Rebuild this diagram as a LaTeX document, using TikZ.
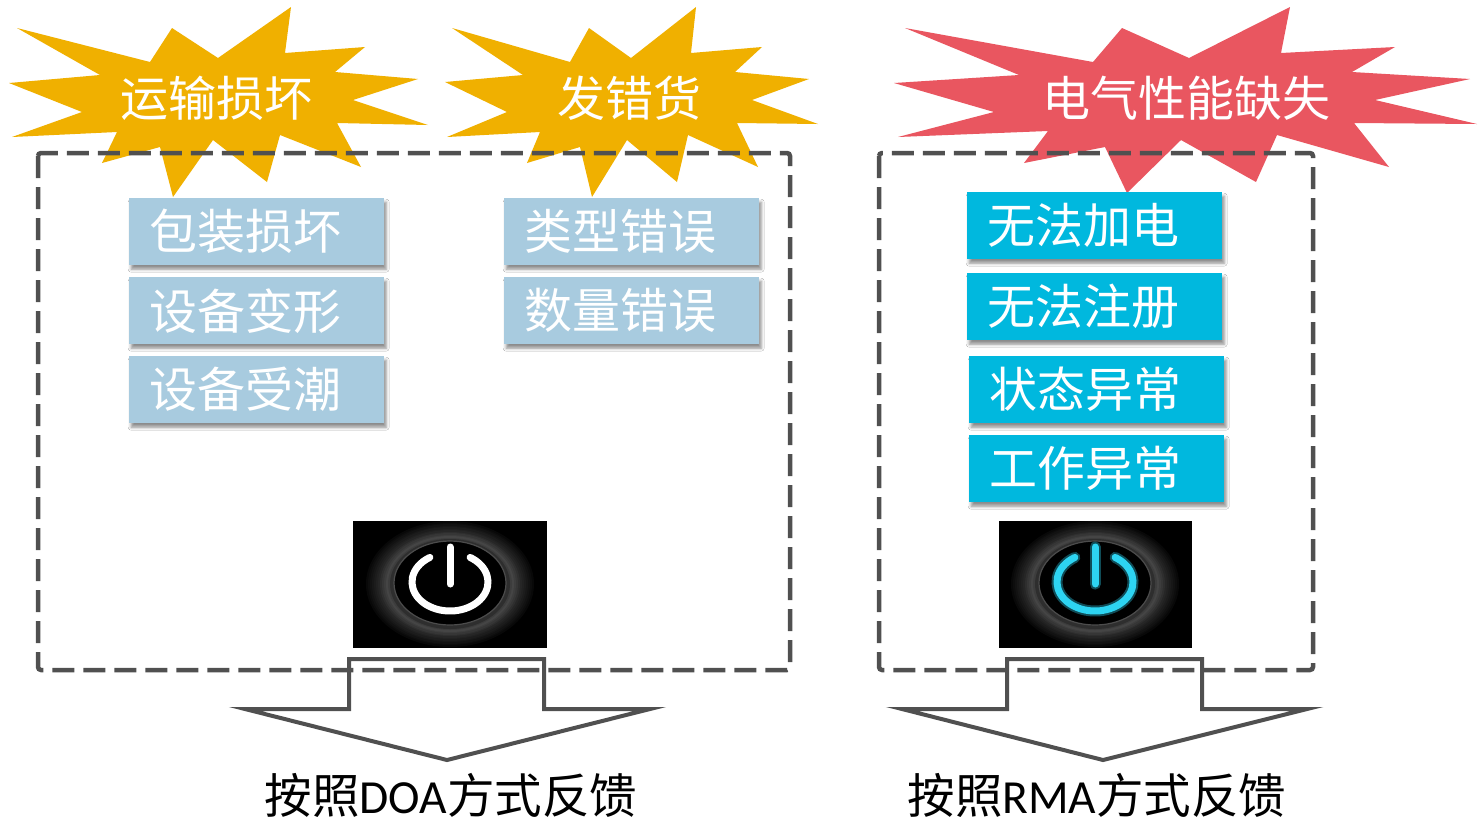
\documentclass[tikz,border=0pt]{standalone}
\usepackage{fontspec}
\setmainfont{Carlito}
\newfontfamily\cjk{Noto Sans CJK SC}
\usetikzlibrary{shadows.blur}

\definecolor{burstgold}{RGB}{240,176,0}
\definecolor{burstred}{RGB}{233,86,96}
\definecolor{tagblue}{RGB}{168,203,223}
\definecolor{tagcyan}{RGB}{0,184,222}
\definecolor{framegray}{RGB}{80,80,80}
\definecolor{glowcyan}{RGB}{45,212,242}

\tikzset{
  faultbox/.style={fill=tagblue, text=white, inner xsep=20pt, inner ysep=0pt,
    text width=215pt, minimum height=67pt, align=left, anchor=north west,
    font=\cjk\fontsize{48}{50}\selectfont,
    blur shadow={shadow xshift=2pt, shadow yshift=-4pt, shadow blur radius=3pt, shadow opacity=45}},
  elecbox/.style={faultbox, fill=tagcyan},
  bursttext/.style={text=white, font=\cjk\fontsize{48}{50}\selectfont},
  dashframe/.style={draw=framegray, line width=4.5pt, dash pattern=on 22pt off 9pt, rounded corners=3pt},
  blockarrow/.style={draw=framegray, line width=4pt, miter limit=20},
  feedback/.style={text=black, font=\fontsize{47.5}{50}\selectfont},
}

\begin{document}
\begin{tikzpicture}[x=1pt,y=-1pt,join=miter] % two fault groups, one feedback arrow each
        \fill[white](0,0) rectangle (1478,823);
        \useasboundingbox (0,0) rectangle (1478,823);
        % bursts
        \fill[burstgold](17,28)--(150,62)--(172,28)--(218,58)--(291,7)--(285,53)--(365,47)--(335,72)--(418,79)--(353,100)
                --(428,125)--(337,123)--(361,167)--(280,135)--(267,182)--(213,140)--(173,197)--(160,147)--(102,163)
                --(117,132)--(12,137)--(82,112)--(9,83)--(100,75)--cycle;
        \fill[burstgold](452,28)--(570,62)--(589,28)--(631,58)--(696,7)--(691,53)--(762,47)--(735,72)--(809,79)--(752,100)
                --(818,124)--(737,123)--(758,167)--(688,135)--(677,182)--(627,140)--(592,197)--(580,147)--(527,163)
                --(540,132)--(447,137)--(507,112)--(445,82)--(523,75)--cycle;
        \fill[burstred](905,28)--(1093,62)--(1122,28)--(1189,58)--(1290,7)--(1281,53)--(1395,47)--(1352,72)--(1470,79)--(1375,100)
                --(1477,124)--(1354,123)--(1389,167)--(1277,135)--(1256,182)--(1181,140)--(1127,193)--(1105,147)--(1024,163)
                --(1048,131)--(898,137)--(994,112)--(894,83)--(1019,75)--cycle;
        \node[bursttext] (transport) at (216,98) {运输损坏};
        \node[bursttext] (wrongship) at (629,98) {发错货};
        \node[bursttext] (electric) at (1186,98) {电气性能缺失};
        % dashed groups
        \draw[dashframe](38,153) rectangle (790,670);
        \draw[dashframe](879,153) rectangle (1313,670);
        % fault boxes
        \node[faultbox] (pack) at (129,198) {包装损坏};
        \node[faultbox] (deform) at (129,277) {设备变形};
        \node[faultbox] (damp) at (129,356) {设备受潮};
        \node[faultbox] (model) at (504,198) {类型错误};
        \node[faultbox] (count) at (504,277) {数量错误};
        \node[elecbox] (nopower) at (967,192) {无法加电};
        \node[elecbox] (noreg) at (967,273) {无法注册};
        \node[elecbox] (badstate) at (969,356) {状态异常};
        \node[elecbox] (badwork) at (969,435) {工作异常};
        % power buttons
        \fill[black](353,521) rectangle (547,648);
        \fill[black](999,521) rectangle (1192,648);
        \foreach \cx in {450,1095}{
          \foreach \rx/\ry/\g in {84/63/3, 82/61/5, 80/60/7, 78/58/9, 76/57/11, 74/55/13, 72/54/15, 70/52/18,
                                  68/51/21, 66/49/24, 64/48/27, 62/46/24, 60/45/18}
            \fill[white!\g!black](\cx,584) ellipse [x radius=\rx, y radius=\ry];
          \fill[black](\cx,583) ellipse [x radius=56, y radius=42];
          \draw[white!30!black, line width=1.2pt](\cx,583) ellipse [x radius=56, y radius=42];
        }
        \draw[white, line width=7pt, line cap=round](450,582) ++(-58:38 and 29) arc[start angle=-58, end angle=238, x radius=38, y radius=29];
        \draw[white, line width=7pt, line cap=round](450,547)--(450,584);
        \draw[glowcyan!60!black, line width=11pt, line cap=round, opacity=.6](1095,582) ++(-58:38 and 29) arc[start angle=-58, end angle=238, x radius=38, y radius=29];
        \draw[glowcyan!60!black, line width=11pt, line cap=round, opacity=.6](1095,547)--(1095,584);
        \draw[glowcyan, line width=7pt, line cap=round](1095,582) ++(-58:38 and 29) arc[start angle=-58, end angle=238, x radius=38, y radius=29];
        \draw[glowcyan, line width=7pt, line cap=round](1095,547)--(1095,584);
        % feedback arrows
        \draw[blockarrow](349,659)--(544,659)--(544,709)--(650,709)--(447,760)--(245,709)--(349,709)--cycle;
        \draw[blockarrow](1007,659)--(1202,659)--(1202,709)--(1307,709)--(1103,760)--(902,709)--(1007,709)--cycle;
        \node[feedback] (doa) at (451,795) {{\cjk 按照}DOA{\cjk 方式反馈}};
        \node[feedback] (rma) at (1097,795) {{\cjk 按照}RMA{\cjk 方式反馈}};
\end{tikzpicture}
\end{document}
